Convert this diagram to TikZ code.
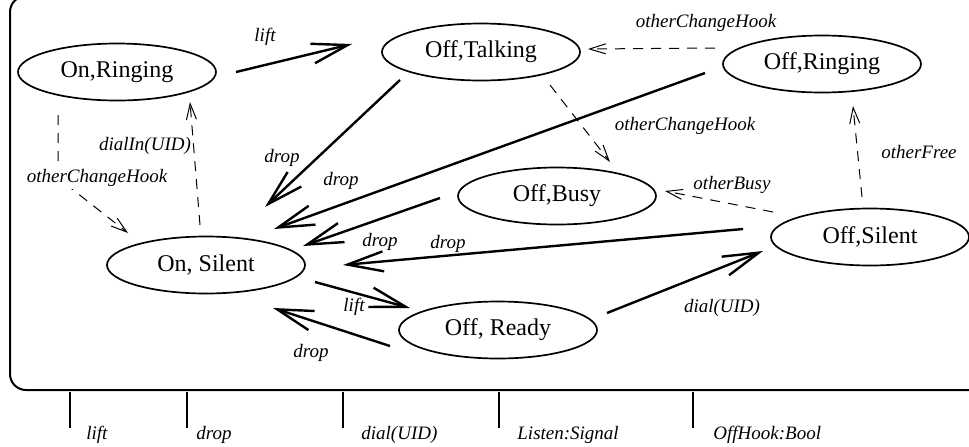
\documentclass[tikz,border=0pt]{standalone}
\usepackage{fontspec}
\setmainfont{Liberation Serif}
\usetikzlibrary{shapes.geometric,arrows.meta,calc}

\begin{document}
\begin{tikzpicture}[x=0.5pt, y=-0.5pt,
    state/.style={ellipse, draw, line width=0.85pt, minimum width=99pt, minimum height=28.5pt, inner sep=0pt, font=\fontsize{12}{14}\selectfont},
    trans/.style={line width=1.2pt, -{Straight Barb[length=18pt,width=10pt]}},
    hook/.style={line width=0.5pt, dash pattern=on 5pt off 4pt, -{Straight Barb[length=8pt,width=5pt]}},
    lbl/.style={font=\fontsize{9.5}{11}\selectfont\itshape, inner sep=1pt},
    port/.style={line width=1pt},
]
\useasboundingbox (0,0) rectangle (969,446);
\clip (0,0) rectangle (969,446);

% Outer frame
\draw[line width=1pt, rounded corners=8pt] (10,-4) rectangle (1000,390);

% States
\node[state] (onring) at (117,72) {On,Ringing};
\node[state] (offtalk) at (481,52) {Off,Talking};
\node[state] (offring) at (822,64) {Off,Ringing};
\node[state] (offbusy) at (557,196) {Off,Busy};
\node[state] (offsilent) at (870,237) {Off,Silent};
\node[state] (onsilent) at (206,265) {On, Silent};
\node[state] (offready) at (498,330) {Off, Ready};

% User transitions
\draw[trans] ($(onring)+(119,0)$) -- ($(offtalk)+(-129,-8)$);
\node[lbl] (llift1) at (265,37) {lift};

\draw[trans] ($(offtalk)+(-81,28)$) -- ($(onsilent)+(59,-58)$);
\node[lbl] (ldrop1) at (282,158) {drop};

\draw[trans] ($(offring)+(-117,9)$) -- ($(onsilent)+(68,-36)$);
\node[lbl] (ldrop2) at (341,181) {drop};

\draw[trans] ($(offbusy)+(-117,2)$) -- ($(onsilent)+(97,-19)$);
\node[lbl] (ldrop3) at (380,242) {drop};

\draw[trans] ($(offsilent)+(-127,-8)$) -- ($(onsilent)+(137,0)$);
\node[lbl] (ldrop4) at (448,244) {drop};

\draw[trans] ($(onsilent)+(109,17)$) -- ($(offready)+(-88,-22)$);
\node[lbl] (llift2) at (354,307) {lift};

\draw[trans] ($(offready)+(-108,16)$) -- ($(onsilent)+(67,43)$);
\node[lbl] (ldrop5) at (311,353) {drop};

\draw[trans] ($(offready)+(109,-17)$) -- ($(offsilent)+(-107,14)$);
\node[lbl] (ldial) at (722,308) {dial(UID)};

% Environment transitions
\draw[hook] ($(onring)+(-59,43)$) -- ($(onring)+(-59,106)$) -- ($(onsilent)+(-78,-32)$);
\node[lbl, fill=white] (lhook1) at (97,178) {otherChangeHook};

\draw[hook] ($(onsilent)+(-6,-40)$) -- ($(onring)+(73,30)$);
\node[lbl] (ldialin) at (145,146) {dialIn(UID)};

\draw[hook] ($(offring)+(-107,-16)$) -- ($(offtalk)+(107,-3)$);
\node[lbl] (lhook2) at (706,23) {otherChangeHook};

\draw[hook] ($(offtalk)+(69,33)$) -- ($(offbusy)+(53,-34)$);
\node[lbl] (lhook3) at (685,126) {otherChangeHook};

\draw[hook] ($(offsilent)+(-97,-25)$) -- ($(offbusy)+(108,-5)$);
\node[lbl] (lbusy) at (732,185) {otherBusy};

\draw[hook] ($(offsilent)+(-8,-40)$) -- ($(offring)+(31,42)$);
\node[lbl] (lfree) at (919,152) {otherFree};

% Interface
\draw[port] (70,392) -- (70,428);
\node[lbl, anchor=base west, inner sep=0pt] (ilift) at (86,439) {lift};
\draw[port] (187,392) -- (187,428);
\node[lbl, anchor=base west, inner sep=0pt] (idrop) at (196,439) {drop};
\draw[port] (343,392) -- (343,428);
\node[lbl, anchor=base west, inner sep=0pt] (idial) at (361,439) {dial(UID)};
\draw[port] (499,392) -- (499,428);
\node[lbl, anchor=base west, inner sep=0pt] (ilisten) at (517,439) {Listen:Signal};
\draw[port] (693,392) -- (693,428);
\node[lbl, anchor=base west, inner sep=0pt] (ioffhook) at (713,439) {OffHook:Bool};

\end{tikzpicture}
\end{document}
